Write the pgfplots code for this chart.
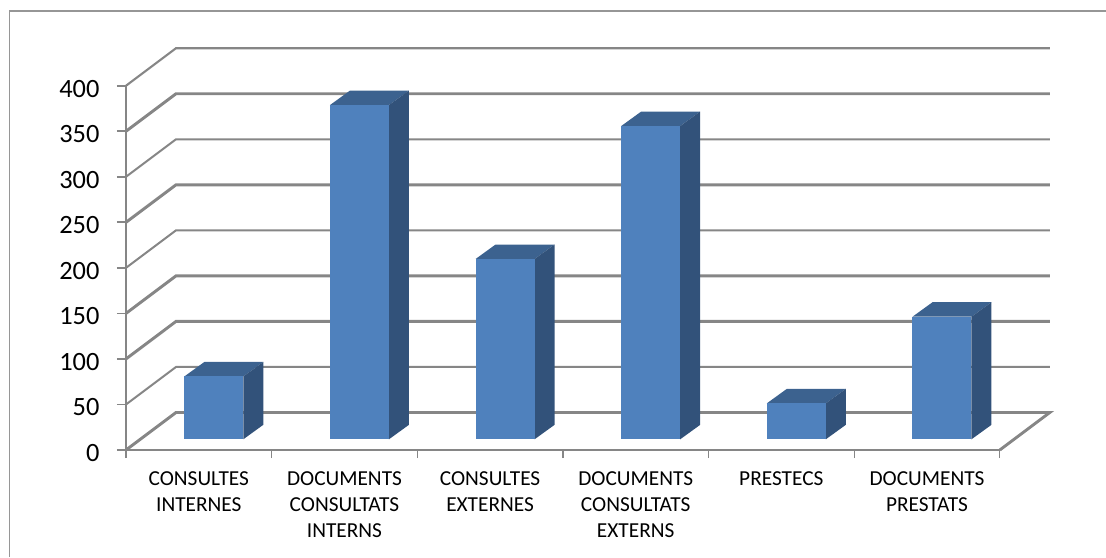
\documentclass[border=0pt]{standalone}
\usepackage{fontspec}
\setmainfont{Carlito}
\usepackage{pgfplots}
\pgfplotsset{compat=1.18}

\definecolor{barfront}{HTML}{4F81BD}
\definecolor{barside}{HTML}{32527A}
\definecolor{bartop}{HTML}{3C628F}
\definecolor{gridgray}{HTML}{868686}
\definecolor{framegray}{HTML}{969696}

% one pseudo 3D column: #1 category centre, #2 value
\newcommand{\column}[2]{%
  \pgfmathsetmacro\xl{#1+0.1030-0.2025}%
  \pgfmathsetmacro\xr{#1+0.1030+0.2025}%
  \pgfmathsetmacro\xlb{\xl+0.1373}%
  \pgfmathsetmacro\xrb{\xr+0.1373}%
  \pgfmathsetmacro\yb{11.75}%
  \pgfmathsetmacro\ybb{\yb+15.9}%
  \pgfmathsetmacro\yt{\yb+#2}%
  \pgfmathsetmacro\ytb{\yt+15.9}%
  \edef\tmp{%
    \noexpand\addplot[fill=bartop,draw=none] coordinates {(\xl,\yt)(\xlb,\ytb)(\xrb,\ytb)(\xr,\yt)} --cycle;
    \noexpand\addplot[fill=barside,draw=none] coordinates {(\xr,\yb)(\xrb,\ybb)(\xrb,\ytb)(\xr,\yt)} --cycle;
    \noexpand\addplot[fill=barfront,draw=none] coordinates {(\xl,\yb)(\xr,\yb)(\xr,\yt)(\xl,\yt)} --cycle;
  }\tmp
}

% gridline on the side wall and the back wall: #1 value, #2 line width
\newcommand{\wallline}[2]{%
  \pgfmathsetmacro\yw{#1+41.2}%
  \edef\tmp{%
    \noexpand\addplot[gridgray,line width=#2] coordinates {(0,#1)(0.3433,\yw)(6.3433,\yw)};
  }\tmp
}

\begin{document}
\begin{tikzpicture}
  \path[use as bounding box] (0,0) rectangle (829.5pt,417.75pt);
  \draw[framegray,line width=1.3pt] (7.1pt,0) -- (7.1pt,409.5pt) -- (829.5pt,409.5pt);
  \begin{axis}[
    at={(94.5pt,80.25pt)},
    anchor=south west,
    scale only axis,
    width=655.35pt,
    height=273.2pt,
    xmin=0, xmax=6,
    ymin=0, ymax=400,
    clip=false,
    axis lines=left,
    axis line style={-,gridgray,line width=1.6pt},
    tick align=outside,
    ytick={0,50,...,400},
    xtick={0.5,1.5,2.5,3.5,4.5,5.5},
    minor xtick={0,1,2,3,4,5,6},
    xticklabels={{CONSULTES\\INTERNES},{DOCUMENTS\\CONSULTATS\\INTERNS},{CONSULTES\\EXTERNES},{DOCUMENTS\\CONSULTATS\\EXTERNS},{PRESTECS},{DOCUMENTS\\PRESTATS}},
    major tick length=6.75pt,
    minor tick length=6pt,
    major x tick style={draw=none},
    y tick style={gridgray,line width=1.3pt},
    minor x tick style={gridgray,line width=1pt},
    /pgf/number format/assume math mode=true,
    y tick label style={font=\fontsize{19.8}{22}\selectfont,inner sep=0pt,xshift=-13pt,yshift=-2.2pt},
    x tick label style={font=\fontsize{16}{19.5}\selectfont,align=center,inner sep=0pt,yshift=-9.5pt},
    ]
    \wallline{50}{1.5pt}
    \wallline{100}{2.2pt}
    \wallline{150}{2.2pt}
    \wallline{200}{1.5pt}
    \wallline{250}{2.2pt}
    \wallline{300}{1.5pt}
    \wallline{350}{2.2pt}
    \wallline{400}{1.6pt}
    \addplot[gridgray,line width=2.2pt] coordinates {(0,0)(0.3433,41.2)(6.3433,41.2)(6,0)};

    \column{0.5}{69}
    \column{1.5}{367}
    \column{2.5}{198}
    \column{3.5}{344}
    \column{4.5}{39.5}
    \column{5.5}{134.6}
  \end{axis}
\end{tikzpicture}
\end{document}
